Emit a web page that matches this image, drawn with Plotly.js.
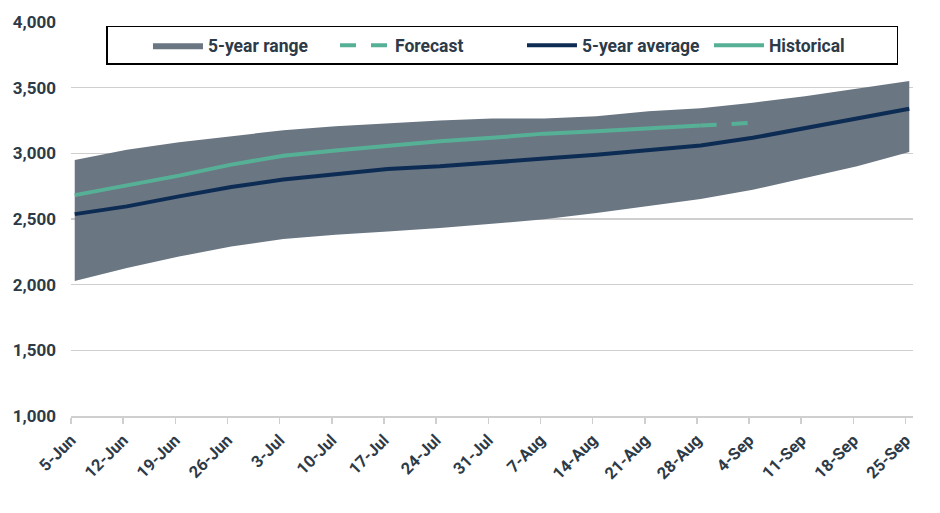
<!DOCTYPE html>
<html>
<head>
<meta charset="utf-8">
<script src="https://cdn.plot.ly/plotly-3.0.1.min.js"></script>
<style>
  html, body { margin: 0; padding: 0; background: #fff; }
  #chart { width: 940px; height: 513px; }
</style>
</head>
<body>
<div id="chart"></div>
<script>
  var dates = ['2023-06-05', '2023-06-12', '2023-06-19', '2023-06-26', '2023-07-03', '2023-07-10',
    '2023-07-17', '2023-07-24', '2023-07-31', '2023-08-07', '2023-08-14', '2023-08-21',
    '2023-08-28', '2023-09-04', '2023-09-11', '2023-09-18', '2023-09-25'];
  var tickLabels = ['5-Jun', '12-Jun', '19-Jun', '26-Jun', '3-Jul', '10-Jul', '17-Jul', '24-Jul',
    '31-Jul', '7-Aug', '14-Aug', '21-Aug', '28-Aug', '4-Sep', '11-Sep', '18-Sep', '25-Sep'];

  var rangeHigh = [2950, 3028, 3084, 3130, 3176, 3207, 3230, 3250, 3265, 3265, 3283, 3321, 3344, 3385, 3435, 3494, 3550];
  var rangeLow = [2028, 2127, 2214, 2290, 2347, 2381, 2405, 2431, 2463, 2499, 2545, 2596, 2652, 2723, 2812, 2901, 3010];
  var average = [2537, 2596, 2672, 2744, 2800, 2843, 2881, 2901, 2927, 2960, 2990, 3028, 3059, 3118, 3194, 3270, 3339];
  var historical = [2682, 2753, 2830, 2914, 2982, 3021, 3059, 3092, 3118, 3150, 3168, 3186, 3211,
    null, null, null, null];
  var forecast = [null, null, null, null, null, null, null, null, null, null, null, null, 3211, 3233,
    null, null, null];

  var TEXT = '#2d3a47';
  var GRID = '#cfcfcf';

  // points sit in the middle of each day, ticks on the day boundary
  var x = dates.map(function(d) { return d + ' 12:00'; });

  var data = [
    {
      x: x, y: rangeLow, type: 'scatter', mode: 'lines',
      line: { width: 0, color: '#6b7683' }, showlegend: false, hoverinfo: 'skip'
    },
    {
      x: x, y: rangeHigh, type: 'scatter', mode: 'lines', name: '5-year range',
      fill: 'tonexty', fillcolor: '#6b7683', line: { width: 0, color: '#6b7683' }
    },
    {
      x: x, y: forecast, type: 'scatter', mode: 'lines', name: 'Forecast',
      line: { color: '#56b096', width: 4, dash: '16px,15px' }
    },
    {
      x: x, y: average, type: 'scatter', mode: 'lines', name: '5-year average',
      line: { color: '#0d2c54', width: 4 }
    },
    {
      x: x, y: historical, type: 'scatter', mode: 'lines', name: 'Historical',
      line: { color: '#56b096', width: 4 }
    }
  ];

  var layout = {
    width: 940,
    height: 513,
    paper_bgcolor: '#fff',
    plot_bgcolor: '#fff',
    margin: { l: 71, r: 27, t: 22, b: 97 },
    font: { family: 'Roboto, Inter, sans-serif', color: TEXT, size: 15, weight: 'bold' },
    xaxis: {
      type: 'date',
      range: ['2023-06-05', '2023-09-26'],
      tickmode: 'array',
      tickvals: dates,
      ticktext: tickLabels,
      tickangle: -45,
      ticks: 'outside', ticklen: 6, tickwidth: 1.5, tickcolor: GRID,
      showline: true, linecolor: GRID, linewidth: 2,
      showgrid: false, zeroline: false,
      tickfont: { size: 16.5, color: TEXT, weight: 'bold' }
    },
    yaxis: {
      range: [1000, 4000],
      dtick: 500,
      tickformat: ',',
      gridcolor: GRID, gridwidth: 1.5,
      zeroline: false, showline: false,
      ticks: '', ticklabelstandoff: 14,
      tickfont: { size: 17, color: TEXT, weight: 'bold' }
    },
    legend: {
      orientation: 'h',
      traceorder: 'normal',
      x: 0.0416, xanchor: 'left',
      y: 0.99, yanchor: 'top',
      bgcolor: '#fff', bordercolor: '#000', borderwidth: 1.5,
      entrywidth: 122,
      // blank title gives the left inset seen in the original legend box
      title: { text: '\u00a0\u00a0\u00a0\u00a0\u00a0\u00a0\u00a0', side: 'left', font: { size: 17.5 } },
      font: { size: 17.5, color: TEXT, weight: 'bold' },
      itemwidth: 50
    },
    showlegend: true
  };

  Plotly.newPlot('chart', data, layout, { displayModeBar: false, staticPlot: true });
</script>
</body>
</html>
